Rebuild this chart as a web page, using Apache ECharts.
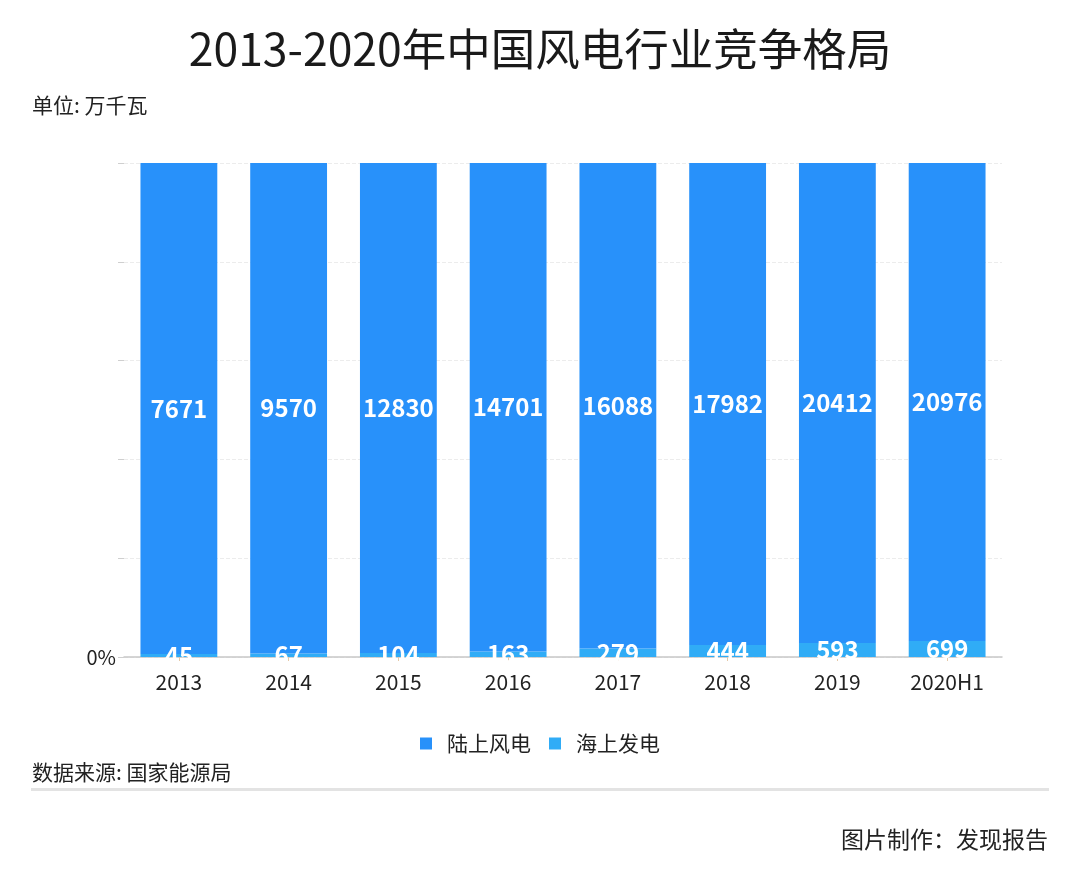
<!DOCTYPE html>
<html>
<head>
<meta charset="utf-8">
<script src="https://cdn.jsdelivr.net/npm/echarts@6/dist/echarts.min.js"></script>
<style>
  html, body { margin: 0; padding: 0; background: #fff; }
  #main { width: 1080px; height: 889px; }
</style>
</head>
<body>
<div id="main"></div>
<script>
const years = ['2013', '2014', '2015', '2016', '2017', '2018', '2019', '2020H1'];
const onshore = [7671, 9570, 12830, 14701, 16088, 17982, 20412, 20976];
const offshore = [45, 67, 104, 163, 279, 444, 593, 699];

// share of each year's total, for the 100% stack
const onshorePct = onshore.map((v, i) => v / (v + offshore[i]) * 100);
const offshorePct = offshore.map((v, i) => v / (onshore[i] + v) * 100);

const font = '"Noto Sans CJK SC", "Noto Sans", sans-serif';
const darkBlue = '#2891fa';
const lightBlue = '#30acf6';

var chart = echarts.init(document.getElementById('main'));

var option = {
    backgroundColor: '#fff',
    textStyle: { fontFamily: font },
    title: [
        {
            text: '2013-2020年中国风电行业竞争格局',
            left: 'center',
            top: 22,
            textStyle: { fontSize: 44.5, fontWeight: 'normal', color: '#1a1a1a', fontFamily: font }
        },
        {
            text: '单位: 万千瓦',
            left: 27,
            top: 90,
            textStyle: { fontSize: 21, fontWeight: 'normal', color: '#222', fontFamily: font }
        },
        {
            text: '数据来源: 国家能源局',
            left: 27,
            top: 757,
            textStyle: { fontSize: 21, fontWeight: 'normal', color: '#222', fontFamily: font }
        },
        {
            text: '图片制作：发现报告',
            right: 27,
            top: 823,
            textStyle: { fontSize: 23, fontWeight: 'normal', color: '#222', fontFamily: font }
        }
    ],
    graphic: [
        {
            type: 'rect',
            shape: { x: 31, y: 788, width: 1018, height: 3 },
            style: { fill: '#e3e3e3' }
        }
    ],
    legend: {
        data: ['陆上风电', '海上发电'],
        left: 'center',
        top: 728,
        itemWidth: 12,
        itemHeight: 12,
        itemGap: 18,
        icon: 'rect',
        textStyle: { fontSize: 21, color: '#222', fontFamily: font, padding: [0, 0, 0, 10] }
    },
    grid: {
        left: 124,
        right: 78,
        top: 163,
        bottom: 232
    },
    xAxis: {
        type: 'category',
        data: years,
        axisLine: { lineStyle: { color: '#c8c8c8', width: 1.5 } },
        axisTick: { show: true, alignWithLabel: true, length: 4, lineStyle: { color: '#e6c9a8' } },
        axisLabel: { fontSize: 21, color: '#222', margin: 15, fontFamily: font }
    },
    yAxis: {
        type: 'value',
        min: 0,
        max: 100,
        interval: 20,
        axisLine: { show: false },
        axisTick: { show: true, length: 6, lineStyle: { color: '#cfcfcf' } },
        axisLabel: {
            fontSize: 20,
            color: '#222',
            margin: 8,
            formatter: v => (v === 0 ? '0%' : '')
        },
        splitLine: { lineStyle: { type: 'dashed', color: '#ececec' } }
    },
    series: [
        {
            name: '海上发电',
            type: 'bar',
            stack: 'total',
            barWidth: '70%',
            itemStyle: { color: lightBlue },
            data: offshorePct,
            label: {
                show: true,
                position: 'inside',
                color: '#fff',
                fontSize: 24,
                fontWeight: 'bold',
                fontFamily: font,
                formatter: p => offshore[p.dataIndex]
            }
        },
        {
            name: '陆上风电',
            type: 'bar',
            stack: 'total',
            barWidth: '70%',
            itemStyle: { color: darkBlue },
            data: onshorePct,
            label: {
                show: true,
                position: 'inside',
                color: '#fff',
                fontSize: 24,
                fontWeight: 'bold',
                fontFamily: font,
                formatter: p => onshore[p.dataIndex]
            }
        }
    ]
};

chart.setOption(option);
</script>
</body>
</html>
